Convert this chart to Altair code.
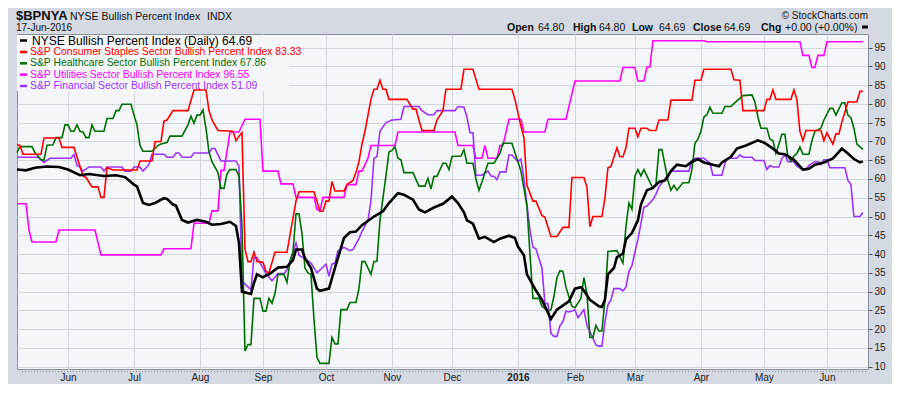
import altair as alt
import pandas as pd

# ---------------- data ----------------
# x = trading-day index (0 = first bar, early May 2015; 282 = 17-Jun-2016)
series_names = [
    "NYSE Bullish Percent Index (Daily)",
    "S&P Consumer Staples Sector Bullish Percent Index",
    "S&P Healthcare Sector Bullish Percent Index",
    "S&P Utilities Sector Bullish Percent Index",
    "S&P Financial Sector Bullish Percent Index",
]
last_values = ["64.69", "83.33", "67.86", "96.55", "51.09"]
series_colors = ["#000000", "#ff0000", "#006e00", "#ff00ff", "#9933ff"]

month_ticks = [17, 39, 61, 82, 103, 125, 145, 167, 186, 206, 228, 249, 270]
month_labels = ["Jun", "Jul", "Aug", "Sep", "Oct", "Nov", "Dec", "2016",
                "Feb", "Mar", "Apr", "May", "Jun"]
y_ticks = list(range(10, 100, 5))

nyse_t = [0, 3, 6, 10, 14, 17, 21, 24, 29, 33, 36, 39, 40, 42, 44, 46, 49, 50, 52, 53,
          55, 57, 60, 63, 65, 68, 71, 73, 74, 75, 78, 79, 80, 82, 83, 84, 87, 90, 92, 93,
          95, 96, 98, 100, 101, 104, 106, 109, 111, 113, 115, 119, 122, 124, 127, 129, 132, 134, 136, 139,
          142, 145, 147, 149, 150, 152, 154, 156, 159, 161, 164, 166, 167, 169, 170, 173, 175, 178, 180, 184,
          186, 188, 189, 191, 194, 195, 196, 197, 199, 200, 202, 203, 205, 207, 208, 210, 212, 214, 216, 218,
          220, 223, 225, 227, 229, 232, 234, 235, 238, 240, 243, 247, 249, 252, 254, 256, 259, 262, 264, 266,
          269, 272, 274, 275, 277, 279, 281, 282]
nyse_v = [62.5, 62.3, 63.0, 63.3, 63.2, 62.5, 61.0, 61.3, 60.8, 61.0,
          60.5, 58.5, 58.0, 53.6, 53.1, 53.6, 54.9, 54.7, 53.2, 52.9,
          49.1, 48.4, 49.1, 48.6, 47.8, 48.0, 48.6, 47.5, 43.0, 30.0,
          29.4, 32.3, 34.6, 33.8, 34.3, 34.6, 36.4, 36.6, 38.4, 41.2,
          41.2, 38.9, 36.3, 30.8, 30.2, 30.8, 36.3, 44.3, 45.8, 46.0,
          47.7, 50.0, 51.4, 53.6, 56.2, 55.8, 54.5, 51.9, 51.1, 52.4,
          53.4, 55.3, 53.6, 51.1, 49.0, 48.1, 44.1, 44.6, 43.2, 44.1,
          44.9, 44.3, 42.0, 39.7, 34.6, 30.3, 27.8, 22.7, 25.2, 27.4,
          30.8, 31.2, 30.3, 27.8, 26.1, 25.9, 27.8, 34.6, 36.3, 39.2,
          40.1, 43.9, 45.6, 49.0, 53.2, 57.0, 57.6, 59.2, 59.6, 62.1,
          63.8, 63.4, 64.6, 65.3, 64.4, 63.8, 63.4, 64.4, 65.9, 68.1,
          68.9, 70.3, 69.7, 68.1, 66.8, 66.6, 65.1, 62.5, 62.7, 63.8,
          64.4, 65.5, 67.2, 68.1, 66.8, 65.3, 64.4, 64.69]

staples_t = [0, 1, 2, 8, 9, 14, 15, 19, 22, 23, 25, 27, 28, 29, 30, 32, 40, 41, 45, 46,
             48, 49, 50, 52, 57, 59, 63, 64, 65, 67, 72, 73, 74, 75, 76, 77, 78, 79, 80, 82,
             83, 84, 86, 90, 93, 94, 99, 100, 101, 102, 103, 104, 105, 106, 109, 110, 112, 113, 114, 115,
             116, 118, 119, 120, 121, 122, 123, 124, 130, 132, 133, 134, 135, 139, 140, 142, 143, 148, 149, 152,
             154, 165, 166, 168, 169, 170, 172, 173, 175, 176, 178, 180, 182, 184, 185, 189, 190, 191, 192, 195,
             196, 197, 198, 200, 201, 202, 203, 204, 206, 207, 208, 210, 211, 213, 214, 217, 218, 225, 226, 228,
             229, 238, 239, 241, 242, 249, 250, 251, 252, 253, 258, 259, 260, 261, 262, 263, 268, 269, 270, 272,
             273, 274, 275, 277, 280, 281, 282]
staples_v = [69.1, 68.9, 66.6, 66.6, 70.9, 70.9, 68.4, 68.4, 60.8, 60.4,
             57.9, 57.9, 55.1, 55.1, 63.0, 62.4, 62.4, 64.8, 64.8, 69.9,
             70.0, 75.4, 75.7, 78.2, 78.2, 83.7, 83.7, 78.2, 75.7, 72.9,
             72.7, 70.2, 71.4, 72.3, 41.4, 38.0, 38.0, 40.5, 38.0, 37.8,
             35.4, 35.0, 40.5, 40.5, 54.1, 56.6, 56.6, 54.1, 51.4, 51.4,
             54.1, 54.1, 59.3, 56.8, 56.8, 58.5, 59.6, 61.7, 64.6, 69.3,
             72.7, 81.2, 83.9, 83.9, 86.3, 83.9, 83.9, 81.2, 81.2, 78.6,
             78.6, 75.7, 72.9, 72.9, 75.7, 78.2, 83.9, 83.9, 89.2, 89.2,
             83.9, 83.9, 81.2, 74.0, 71.0, 58.3, 54.1, 54.1, 50.3, 49.8,
             44.7, 44.7, 47.1, 47.1, 60.4, 60.4, 57.9, 47.3, 50.0, 50.0,
             54.9, 63.0, 63.3, 68.3, 65.9, 65.9, 68.3, 73.5, 73.5, 71.2,
             73.5, 73.5, 72.9, 72.9, 75.7, 75.7, 81.0, 81.0, 86.3, 86.3,
             89.2, 89.2, 86.4, 86.3, 78.2, 78.2, 81.2, 81.2, 83.7, 81.2,
             81.2, 83.7, 81.2, 72.7, 70.2, 72.9, 72.9, 70.2, 72.3, 69.3,
             72.0, 72.0, 75.2, 80.5, 80.5, 83.33, 83.33]

health_t = [0, 1, 5, 6, 8, 9, 10, 12, 13, 15, 16, 17, 18, 19, 20, 21, 22, 23, 24, 25,
            26, 29, 30, 32, 33, 34, 35, 38, 39, 40, 41, 42, 45, 47, 48, 50, 51, 55, 57, 58,
            59, 60, 61, 62, 63, 64, 65, 67, 68, 69, 70, 71, 73, 74, 75, 76, 77, 78, 79, 81,
            82, 83, 84, 85, 86, 87, 89, 90, 91, 92, 93, 94, 95, 96, 97, 98, 99, 100, 101, 104,
            105, 106, 107, 108, 110, 111, 113, 114, 115, 116, 118, 119, 120, 121, 123, 124, 125, 126, 127, 128,
            129, 132, 134, 136, 137, 138, 139, 140, 142, 143, 144, 145, 148, 149, 150, 152, 153, 154, 155, 157,
            159, 161, 162, 165, 167, 168, 170, 171, 172, 174, 175, 177, 178, 179, 180, 181, 182, 183, 185, 186,
            188, 189, 190, 191, 192, 193, 194, 195, 196, 197, 200, 202, 203, 204, 205, 206, 207, 208, 209, 210,
            212, 213, 214, 215, 216, 217, 218, 219, 220, 222, 224, 225, 226, 227, 228, 229, 230, 231, 232, 235,
            236, 238, 240, 242, 245, 246, 247, 248, 250, 251, 252, 253, 254, 255, 256, 257, 258, 259, 260, 261,
            262, 264, 265, 266, 268, 269, 271, 272, 273, 275, 276, 277, 278, 279, 280, 282]
health_v = [67.0, 68.6, 68.6, 67.0, 65.2, 65.0, 69.0, 69.1, 71.0, 71.0,
            74.4, 74.4, 72.7, 72.7, 74.4, 72.7, 72.5, 71.0, 71.0, 74.4,
            72.7, 72.7, 76.1, 76.1, 78.2, 78.2, 79.9, 79.9, 77.0, 74.4,
            68.9, 67.4, 67.4, 68.9, 69.3, 69.7, 71.4, 71.4, 74.4, 76.7,
            74.8, 77.0, 77.0, 78.4, 73.5, 67.2, 64.6, 61.7, 57.5, 57.5,
            61.3, 62.5, 62.5, 60.8, 47.3, 14.2, 15.9, 15.9, 28.2, 28.2,
            24.8, 24.8, 28.2, 26.9, 29.5, 34.6, 34.6, 32.5, 38.0, 40.5,
            50.7, 50.7, 45.6, 36.3, 35.0, 34.6, 22.7, 12.5, 10.9, 10.9,
            17.8, 16.1, 16.1, 25.2, 25.2, 27.1, 27.1, 30.8, 38.0, 38.0,
            34.6, 38.0, 38.1, 49.0, 60.8, 67.2, 67.6, 68.6, 65.5, 65.1,
            61.7, 61.7, 58.1, 58.1, 60.2, 57.3, 60.7, 60.7, 64.2, 64.2,
            62.5, 66.0, 66.1, 67.8, 64.2, 64.2, 60.0, 57.0, 59.2, 64.2,
            64.2, 66.8, 69.5, 69.5, 64.6, 62.1, 52.8, 40.1, 28.2, 28.2,
            26.1, 24.8, 25.2, 28.7, 33.7, 35.6, 35.4, 31.2, 26.1, 25.7,
            28.2, 33.7, 29.5, 17.8, 17.8, 21.0, 19.5, 19.5, 27.8, 40.7,
            40.9, 37.6, 47.3, 53.6, 51.9, 60.8, 62.5, 60.8, 62.5, 60.8,
            57.5, 58.5, 67.8, 67.8, 63.8, 59.6, 57.0, 58.3, 57.0, 59.0,
            59.0, 62.5, 69.5, 70.6, 72.7, 76.5, 77.1, 79.1, 77.5, 77.5,
            79.3, 79.3, 80.8, 82.2, 82.4, 80.5, 76.5, 73.5, 73.5, 70.6,
            70.2, 66.8, 69.3, 71.9, 71.9, 65.9, 64.8, 66.1, 66.8, 68.5,
            66.6, 66.6, 70.2, 72.7, 73.5, 75.7, 78.8, 78.8, 77.0, 80.3,
            80.3, 77.0, 76.3, 73.5, 69.3, 67.86]

util_t = [0, 3, 4, 5, 13, 14, 26, 28, 48, 49, 58, 59, 64, 65, 67, 68, 69, 71, 74, 76,
          81, 82, 87, 88, 92, 93, 99, 100, 101, 102, 109, 110, 113, 114, 115, 117, 118, 126, 127, 146,
          147, 152, 153, 155, 156, 157, 160, 161, 162, 164, 168, 169, 176, 177, 183, 186, 201, 202, 206, 207,
          209, 210, 211, 212, 229, 230, 261, 262, 264, 265, 266, 267, 269, 270, 282]
util_v = [53.4, 53.4, 46.4, 43.2, 43.2, 46.4, 46.4, 39.8, 39.8, 41.4,
          41.4, 48.2, 48.2, 51.5, 51.5, 62.3, 62.3, 72.5, 72.5, 75.9,
          75.9, 62.1, 62.1, 58.7, 58.7, 55.1, 55.1, 51.9, 51.5, 55.1,
          55.1, 58.5, 58.5, 62.1, 62.1, 65.5, 68.9, 68.9, 72.5, 72.5,
          68.9, 68.9, 65.5, 65.5, 68.9, 65.5, 65.5, 68.9, 68.9, 75.9,
          75.9, 72.5, 72.5, 75.9, 75.9, 86.1, 86.1, 89.7, 89.7, 86.1,
          86.1, 89.8, 89.8, 96.8, 96.8, 96.55, 96.55, 92.9, 92.9, 89.7,
          89.7, 92.9, 92.9, 96.55, 96.55]

fin_t = [0, 7, 9, 11, 18, 19, 20, 21, 22, 24, 28, 29, 30, 35, 36, 38, 39, 41, 42, 44,
         45, 49, 50, 52, 53, 54, 55, 58, 59, 64, 65, 66, 68, 73, 74, 75, 76, 78, 79, 80,
         82, 83, 85, 87, 89, 90, 93, 94, 95, 96, 98, 100, 103, 104, 105, 106, 107, 109, 111, 112,
         114, 115, 117, 118, 119, 120, 121, 123, 125, 128, 129, 134, 135, 137, 139, 140, 146, 147, 149, 150,
         151, 152, 153, 155, 157, 158, 159, 160, 161, 163, 164, 165, 167, 168, 169, 170, 171, 172, 173, 175,
         176, 177, 178, 179, 180, 181, 182, 183, 184, 186, 187, 189, 190, 192, 193, 194, 195, 196, 197, 198,
         199, 201, 202, 203, 204, 205, 206, 207, 208, 209, 210, 212, 213, 214, 215, 217, 218, 224, 225, 226,
         229, 231, 232, 235, 236, 237, 240, 241, 242, 245, 246, 249, 250, 251, 252, 254, 255, 256, 257, 259,
         260, 262, 263, 264, 266, 267, 268, 269, 270, 271, 276, 277, 278, 279, 281, 282]
fin_v = [65.8, 65.8, 64.4, 65.5, 65.5, 66.5, 63.6, 63.2, 62.1, 63.2,
         63.2, 62.1, 63.2, 63.2, 62.1, 62.1, 63.2, 63.2, 62.1, 63.8,
         66.6, 66.6, 65.8, 65.8, 66.9, 66.9, 65.8, 65.8, 66.9, 66.9,
         68.1, 68.1, 64.8, 64.8, 63.4, 32.9, 32.0, 30.5, 39.1, 39.1,
         36.3, 34.8, 32.9, 34.8, 34.8, 35.8, 43.0, 39.7, 39.2, 38.8,
         37.6, 35.0, 37.3, 34.1, 37.3, 37.6, 40.9, 41.8, 40.9, 41.2,
         44.1, 46.0, 49.0, 54.1, 65.5, 65.9, 72.7, 75.0, 75.7, 75.9,
         79.3, 79.3, 78.2, 77.1, 77.1, 78.2, 78.2, 79.3, 79.1, 76.5,
         72.3, 72.3, 61.0, 61.0, 62.1, 60.8, 60.7, 59.8, 61.9, 61.9,
         66.4, 66.4, 64.6, 65.3, 60.0, 53.2, 46.4, 41.8, 41.4, 36.3,
         26.8, 26.8, 18.9, 18.1, 18.1, 20.9, 22.0, 24.8, 24.6, 25.1,
         23.1, 25.2, 21.0, 17.6, 15.8, 15.5, 15.5, 21.9, 26.5, 27.8,
         30.8, 30.8, 30.2, 31.2, 35.4, 36.9, 40.5, 43.9, 48.1, 52.5,
         52.8, 54.5, 55.9, 57.9, 59.0, 60.4, 62.1, 62.1, 64.9, 65.5,
         65.5, 64.2, 61.0, 61.0, 64.2, 65.5, 65.5, 66.4, 65.8, 65.8,
         64.9, 64.9, 62.5, 63.6, 63.2, 63.2, 65.5, 66.4, 64.6, 64.6,
         63.4, 62.5, 62.5, 63.6, 64.6, 64.6, 63.8, 65.1, 65.1, 63.0,
         63.0, 59.6, 58.5, 50.0, 50.0, 51.09]

# ---------------- styling ----------------
FONT = "Liberation Sans"
BG = "#d5d9e2"
PLOT_BG = "#f5f6fa"
GRID = "#d2d5dc"
PLOT_W = 851
PLOT_H = 335

x_scale = alt.Scale(domain=[0, 283.7], nice=False, zero=False)
y_scale = alt.Scale(domain=[9.4, 98.6], nice=False, zero=False)

label_expr = ("[" + ",".join("'%s'" % m for m in month_labels) + "][indexof(["
              + ",".join(str(t) for t in month_ticks) + "], datum.value)]")

x_axis = alt.Axis(values=month_ticks, labelExpr=label_expr, grid=True, gridColor=GRID,
                  ticks=False, domain=False, title=None, labelPadding=3,
                  labelFont=FONT, labelFontSize=10, labelColor="#222222",
                  labelFontWeight={"condition": {"test": "datum.value == 167", "value": "bold"},
                                   "value": "normal"})
y_axis = alt.Axis(orient="right", values=y_ticks, grid=True, gridColor=GRID,
                  tickSize=4, tickColor="#555555", domain=False, title=None,
                  labelPadding=2, labelFont=FONT, labelFontSize=10, labelColor="#222222")


def series_layer(ts, vs, color, width):
    df = pd.DataFrame({"t": ts, "v": vs})
    return alt.Chart(df).mark_line(color=color, strokeWidth=width).encode(
        x=alt.X("t:Q", scale=x_scale, axis=x_axis),
        y=alt.Y("v:Q", scale=y_scale, axis=y_axis),
    )


one = pd.DataFrame({"k": [0]})

layers = []
# legend background box (covers grid)
layers.append(alt.Chart(one).mark_rect(fill=PLOT_BG).encode(
    x=alt.value(0), x2=alt.value(272), y=alt.value(1), y2=alt.value(57)))
# dotted strip under the plot
layers.append(alt.Chart(one).mark_rule(color="#8a8f99", strokeWidth=1, strokeDash=[1, 2]).encode(
    x=alt.value(5), x2=alt.value(PLOT_W), y=alt.value(PLOT_H + 2.5)))

layers.append(series_layer(util_t, util_v, series_colors[3], 1.6))
layers.append(series_layer(fin_t, fin_v, series_colors[4], 1.6))
layers.append(series_layer(health_t, health_v, series_colors[2], 1.6))
layers.append(series_layer(staples_t, staples_v, series_colors[1], 1.6))
layers.append(series_layer(nyse_t, nyse_v, series_colors[0], 2.6))

# legend rows
row_y = [6.5, 18, 29.3, 40.6, 52]
for k, (name, last, col) in enumerate(zip(series_names, last_values, series_colors)):
    yy = row_y[k]
    layers.append(alt.Chart(one).mark_rule(color=col, strokeWidth=2.5).encode(
        x=alt.value(3), x2=alt.value(10), y=alt.value(yy)))
    layers.append(alt.Chart(one).mark_text(
        text=f"{name} {last}", align="left", baseline="middle", color=col,
        font=FONT, fontSize=12 if k == 0 else 10.4).encode(
        x=alt.value(15 if k == 0 else 13), y=alt.value(yy)))

# header texts
header = [
    ("$BPNYA", -1, -14, 13, "bold", "left"),
    ("NYSE Bullish Percent Index", 53, -14, 10.5, "normal", "left"),
    ("INDX", 190, -14, 10.5, "normal", "left"),
    ("17-Jun-2016", -1, -3, 10, "normal", "left"),
    ("\u00a9 StockCharts.com", 851, -15, 10, "normal", "right"),
    ("Open", 490, -3, 10.5, "bold", "left"),
    ("64.80", 521, -3, 10.5, "normal", "left"),
    ("High", 556, -3, 10.5, "bold", "left"),
    ("64.80", 582, -3, 10.5, "normal", "left"),
    ("Low", 615, -3, 10.5, "bold", "left"),
    ("64.69", 642, -3, 10.5, "normal", "left"),
    ("Close", 676, -3, 10.5, "bold", "left"),
    ("64.69", 707, -3, 10.5, "normal", "left"),
    ("Chg", 744, -3, 10.5, "bold", "left"),
    ("+0.00 (+0.00%)", 768, -3, 10.5, "normal", "left"),
]
for txt, xx, yy, fs, fw, al in header:
    layers.append(alt.Chart(one).mark_text(
        text=txt, align=al, baseline="alphabetic", color="#111111",
        font=FONT, fontSize=fs, fontWeight=fw).encode(
        x=alt.value(xx), y=alt.value(yy)))
layers.append(alt.Chart(one).mark_rule(color="#000000", strokeWidth=3).encode(
    x=alt.value(845), x2=alt.value(851), y=alt.value(-7)))

chart = alt.layer(*layers).properties(
    width=PLOT_W, height=PLOT_H,
    padding={"left": 9, "top": 26, "right": 24, "bottom": 15},
    autosize=alt.AutoSizeParams(type="none"),
    background=BG,
).configure_view(
    fill=PLOT_BG, stroke="#8a909b", strokeWidth=1
)

chart.save("out.html", embed_options={"renderer": "svg", "actions": False})
